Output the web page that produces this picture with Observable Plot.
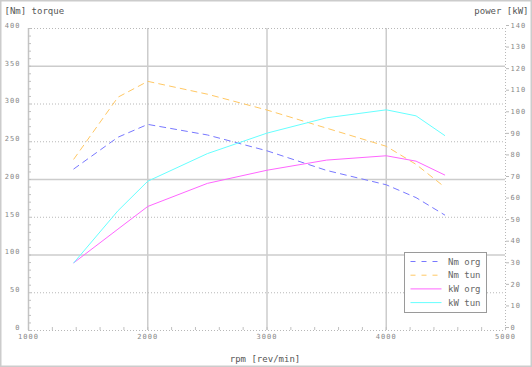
<!DOCTYPE html>
<html><head><meta charset="utf-8">
<script src="https://cdn.jsdelivr.net/npm/d3@7"></script>
<script src="https://cdn.jsdelivr.net/npm/@observablehq/plot@0.6"></script>
<style>body{margin:0;background:#fff;} svg{display:block}</style>
</head><body><div id="chart"></div>
<script>
// ---- data ----
const rpm   = [1380, 1750, 2000, 2500, 3000, 3500, 4000, 4250, 4490];
const nmOrg = [214, 256, 273, 259, 238, 212, 193, 176, 153];
const nmTun = [227, 309, 330, 313, 292, 268, 244, 220, 190];
const kwOrg = [31.4, 47, 57.5, 68.2, 74.3, 79, 81, 78.5, 72.1];
const kwTun = [31.4, 55.5, 69.2, 82, 91.5, 98.6, 102.3, 99.5, 90.4];
const seriesNames = ["Nm org", "Nm tun", "kW org", "kW tun"];
const xTicks = [1000, 2000, 3000, 4000, 5000];
const xMinor = d3.range(1000, 5001, 200);
const nmTicks = d3.range(0, 401, 50);
const nmMinor = d3.range(0, 401, 10);
const kwTicks = d3.range(0, 141, 10);
const solidGrid = [100, 200, 350];
const dottedGrid = [50, 150, 250, 300, 400];
const vGrid = [2000, 3000, 4000];

const KW = 400 / 140; // kW -> torque-axis units
const styles = [
  {values: nmOrg, k: 1,  color: "#7878ff", dash: "6,5"},
  {values: nmTun, k: 1,  color: "#ffc864", dash: "6,5"},
  {values: kwOrg, k: KW, color: "#ff66ff", dash: null},
  {values: kwTun, k: KW, color: "#66ffff", dash: null}
];
const rows = styles.flatMap((s, j) => rpm.map((r, i) => ({series: seriesNames[j], rpm: r, y: s.values[i] * s.k})));

const tickFont = {fontSize: 7, fill: "#888"};

const svg = Plot.plot({
  width: 532, height: 367,
  marginLeft: 28, marginRight: 27, marginTop: 28, marginBottom: 37,
  x: {domain: [1000, 5000], axis: null},
  y: {domain: [0, 400], axis: null},
  style: {fontFamily: "DejaVu Sans Mono", background: "#fff", color: "#888"},
  marks: [
    Plot.ruleX(vGrid, {stroke: "#cccccc", strokeWidth: 1.5}),
    Plot.ruleY(dottedGrid, {stroke: "#b8b8b8", strokeDasharray: "1,2"}),
    Plot.ruleY(solidGrid, {stroke: "#cccccc", strokeWidth: 1.5}),
    Plot.ruleX([1000], {stroke: "#c4c4c4", strokeWidth: 1.5}),
    Plot.ruleX([5000], {stroke: "#b8b8b8", strokeDasharray: "1,2"}),
    Plot.ruleY([0], {stroke: "#b8b8b8", strokeDasharray: "1,2"}),
    Plot.axisY(nmMinor, {anchor: "left", tickSize: -3, stroke: "#c0c0c0", tickFormat: () => "", label: null}),
    Plot.axisY(nmTicks, {anchor: "left", tickSize: 0, tickPadding: 8, dy: -3, label: null, ...tickFont}),
    Plot.axisY(kwTicks.map(k => k * KW), {anchor: "right", tickSize: 3, tickPadding: 2, dy: -3, stroke: "#b8b8b8",
      tickFormat: d => String(Math.round(d / KW)), label: null, ...tickFont}),
    Plot.axisX(xMinor, {anchor: "bottom", tickSize: -3, stroke: "#c0c0c0", tickFormat: () => "", label: null}),
    Plot.axisX(xTicks, {anchor: "bottom", tickSize: 0, tickPadding: 4, tickFormat: d3.format("d"), label: null, ...tickFont}),
    ...styles.map((s, j) => Plot.line(rows.filter(d => d.series === seriesNames[j]),
      {x: "rpm", y: "y", stroke: s.color, strokeWidth: 1, strokeDasharray: s.dash})),
    Plot.text(["[Nm] torque"], {frameAnchor: "top-left", dx: -24, dy: -17, textAnchor: "start", lineAnchor: "middle", fontSize: 9, fill: "#555"}),
    Plot.text(["power [kW]"], {frameAnchor: "top-right", dx: 23, dy: -17, textAnchor: "end", lineAnchor: "middle", fontSize: 9, fill: "#555"}),
    Plot.text(["rpm [rev/min]"], {frameAnchor: "bottom", dx: -2, dy: 29, lineAnchor: "middle", fontSize: 9, fill: "#555"})
  ]
});

// letter spacing on tick labels
d3.select(svg).selectAll("g[aria-label='y-axis tick label'] text, g[aria-label='x-axis tick label'] text").style("letter-spacing", "1px");

// legend box
const lg = d3.select(svg).append("g").attr("text-anchor", "start");
lg.append("rect").attr("x", 404.5).attr("y", 252.5).attr("width", 82).attr("height", 60)
  .attr("fill", "#fff").attr("stroke", "#9a9a9a").attr("stroke-width", 1);
seriesNames.forEach((name, j) => {
  const yy = 261.5 + j * 13.7;
  lg.append("line").attr("x1", 410.5).attr("x2", 441.5).attr("y1", yy).attr("y2", yy)
    .attr("stroke", styles[j].color).attr("stroke-width", 1)
    .attr("stroke-dasharray", styles[j].dash ? "5,6" : null);
  lg.append("text").attr("x", 448).attr("y", yy).attr("dy", "0.35em").attr("text-anchor", "start")
    .attr("font-size", 9).attr("fill", "#666").attr("font-family", "DejaVu Sans Mono").text(name);
});
// outer border
d3.select(svg).append("rect").attr("x", 0.5).attr("y", 0.5).attr("width", 531).attr("height", 366)
  .attr("fill", "none").attr("stroke", "#cccccc").attr("stroke-width", 2);

document.getElementById("chart").appendChild(svg);
</script>
</body></html>
